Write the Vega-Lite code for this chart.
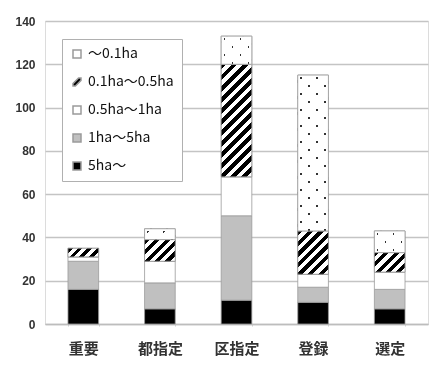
{
  "$schema": "https://vega.github.io/schema/vega-lite/v6.json",
  "autosize": "none",
  "width": 383,
  "height": 303,
  "padding": {"left": 45, "top": 21, "right": 5, "bottom": 47},
  "background": "white",
  "config": {
    "view": {"stroke": "#dcdcdc", "strokeWidth": 1},
    "font": "Noto Sans CJK JP"
  },
  "data": {
    "values": [
      {"cat": "重要", "cls": "5ha～", "min_ha": 5, "n": 16},
      {"cat": "重要", "cls": "1ha～5ha", "min_ha": 1, "n": 13},
      {"cat": "重要", "cls": "0.5ha～1ha", "min_ha": 0.5, "n": 2},
      {"cat": "重要", "cls": "0.1ha～0.5ha", "min_ha": 0.1, "n": 4},
      {"cat": "都指定", "cls": "5ha～", "min_ha": 5, "n": 7},
      {"cat": "都指定", "cls": "1ha～5ha", "min_ha": 1, "n": 12},
      {"cat": "都指定", "cls": "0.5ha～1ha", "min_ha": 0.5, "n": 10},
      {"cat": "都指定", "cls": "0.1ha～0.5ha", "min_ha": 0.1, "n": 10},
      {"cat": "都指定", "cls": "～0.1ha", "min_ha": 0, "n": 5},
      {"cat": "区指定", "cls": "5ha～", "min_ha": 5, "n": 11},
      {"cat": "区指定", "cls": "1ha～5ha", "min_ha": 1, "n": 39},
      {"cat": "区指定", "cls": "0.5ha～1ha", "min_ha": 0.5, "n": 18},
      {"cat": "区指定", "cls": "0.1ha～0.5ha", "min_ha": 0.1, "n": 52},
      {"cat": "区指定", "cls": "～0.1ha", "min_ha": 0, "n": 13},
      {"cat": "登録", "cls": "5ha～", "min_ha": 5, "n": 10},
      {"cat": "登録", "cls": "1ha～5ha", "min_ha": 1, "n": 7},
      {"cat": "登録", "cls": "0.5ha～1ha", "min_ha": 0.5, "n": 6},
      {"cat": "登録", "cls": "0.1ha～0.5ha", "min_ha": 0.1, "n": 20},
      {"cat": "登録", "cls": "～0.1ha", "min_ha": 0, "n": 72},
      {"cat": "選定", "cls": "5ha～", "min_ha": 5, "n": 7},
      {"cat": "選定", "cls": "1ha～5ha", "min_ha": 1, "n": 9},
      {"cat": "選定", "cls": "0.5ha～1ha", "min_ha": 0.5, "n": 8},
      {"cat": "選定", "cls": "0.1ha～0.5ha", "min_ha": 0.1, "n": 9},
      {"cat": "選定", "cls": "～0.1ha", "min_ha": 0, "n": 10}
    ]
  },
  "transform": [
    {"stack": "n", "groupby": ["cat"], "sort": [{"field": "min_ha", "order": "descending"}], "as": ["lo", "hi"]}
  ],
  "encoding": {
    "x": {
      "field": "cat", "type": "nominal",
      "sort": ["重要", "都指定", "区指定", "登録", "選定"],
      "scale": {"paddingInner": 0.6, "paddingOuter": 0.3},
      "axis": {
        "title": null, "labelAngle": 0, "labelFontSize": 15, "labelFontWeight": "bold",
        "labelColor": "#333", "labelFont": "Noto Sans CJK JP", "labelPadding": 15,
        "domainColor": "#bdbdbd", "domainWidth": 1.5,
        "ticks": true, "tickBand": "extent", "tickSize": 2, "tickColor": "#cfcfcf"
      }
    },
    "y": {
      "field": "lo", "type": "quantitative",
      "scale": {"domain": [0, 140]},
      "axis": {
        "title": null, "values": [0, 20, 40, 60, 80, 100, 120, 140],
        "domain": false, "ticks": false, "labelPadding": 10,
        "labelFont": "Liberation Sans", "labelFontSize": 12, "labelFontWeight": "bold", "labelColor": "#333",
        "gridColor": "#c4c4c4", "gridWidth": 1.5
      }
    },
    "y2": {"field": "hi"}
  },
  "layer": [
    {
      "mark": {"type": "bar", "stroke": "#9a9a9a", "strokeWidth": 0.8},
      "encoding": {
        "fill": {
          "field": "cls", "type": "nominal",
          "scale": {
            "domain": ["～0.1ha", "0.1ha～0.5ha", "0.5ha～1ha", "1ha～5ha", "5ha～"],
            "range": ["#ffffff", "#000000", "#ffffff", "#c0c0c0", "#000000"]
          },
          "legend": {
            "title": null, "orient": "none", "legendX": 17, "legendY": 18,
            "padding": 8, "rowPadding": 14, "labelFontSize": 14, "labelOffset": 4,
            "labelColor": "#111", "labelFont": "Noto Sans CJK JP",
            "symbolSize": 64,
            "strokeColor": "#b0b0b0", "fillColor": "#ffffff",
            "encode": {
              "symbols": {
                "update": {
                  "stroke": {"signal": "datum.value === '1ha～5ha' || datum.value === '5ha～' || datum.value === '0.1ha～0.5ha' ? 'transparent' : '#a8a8a8'"},
                  "strokeWidth": {"value": 0.7},
                  "opacity": {"value": 1}
                }
              }
            }
          }
        }
      }
    },
    {
      "transform": [{"filter": "false"}],
      "mark": {"type": "point", "filled": true},
      "encoding": {
        "y2": null,
        "shape": {
          "field": "cls", "type": "nominal",
          "scale": {
            "domain": ["～0.1ha", "0.1ha～0.5ha", "0.5ha～1ha", "1ha～5ha", "5ha～"],
            "range": ["square", "M -1 0.4 L 0.4 -1 L 1 -1 L 1 -0.4 L -0.4 1 L -1 1 Z", "square", "square", "square"]
          },
          "legend": {"title": null}
        }
      }
    },
    {
      "transform": [{"filter": "datum.cls === '0.1ha～0.5ha'"}],
      "mark": {"type": "bar", "stroke": "#9a9a9a", "strokeWidth": 0.8},
      "encoding": {
        "fill": {
          "condition": [
            {
              "test": "datum.cat === '重要'",
              "value": {
                "gradient": "linear", "x1": 0, "y1": 0, "x2": 1.1879, "y2": 0.3357,
                "stops": [
                  {"offset": 0, "color": "#000"}, {"offset": 0.125, "color": "#000"}, {"offset": 0.125, "color": "#fff"}, {"offset": 0.25, "color": "#fff"},
                  {"offset": 0.25, "color": "#000"}, {"offset": 0.375, "color": "#000"}, {"offset": 0.375, "color": "#fff"}, {"offset": 0.5, "color": "#fff"},
                  {"offset": 0.5, "color": "#000"}, {"offset": 0.625, "color": "#000"}, {"offset": 0.625, "color": "#fff"}, {"offset": 0.75, "color": "#fff"},
                  {"offset": 0.75, "color": "#000"}, {"offset": 0.875, "color": "#000"}, {"offset": 0.875, "color": "#fff"}, {"offset": 1, "color": "#fff"}
                ]
              }
            },
            {
              "test": "datum.cat === '都指定'",
              "value": {
                "gradient": "linear", "x1": 0, "y1": 0, "x2": 1.1384, "y2": 0.804,
                "stops": [
                  {"offset": 0, "color": "#000"}, {"offset": 0.1, "color": "#000"}, {"offset": 0.1, "color": "#fff"}, {"offset": 0.2, "color": "#fff"},
                  {"offset": 0.2, "color": "#000"}, {"offset": 0.3, "color": "#000"}, {"offset": 0.3, "color": "#fff"}, {"offset": 0.4, "color": "#fff"},
                  {"offset": 0.4, "color": "#000"}, {"offset": 0.5, "color": "#000"}, {"offset": 0.5, "color": "#fff"}, {"offset": 0.6, "color": "#fff"},
                  {"offset": 0.6, "color": "#000"}, {"offset": 0.7, "color": "#000"}, {"offset": 0.7, "color": "#fff"}, {"offset": 0.8, "color": "#fff"},
                  {"offset": 0.8, "color": "#000"}, {"offset": 0.9, "color": "#000"}, {"offset": 0.9, "color": "#fff"}, {"offset": 1, "color": "#fff"}
                ]
              }
            },
            {
              "test": "datum.cat === '区指定'",
              "value": {
                "gradient": "linear", "x1": 0, "y1": 0, "x2": 0.3225, "y2": 1.1845,
                "stops": [
                  {"offset": 0, "color": "#000"}, {"offset": 0.03846, "color": "#000"}, {"offset": 0.03846, "color": "#fff"}, {"offset": 0.07692, "color": "#fff"},
                  {"offset": 0.07692, "color": "#000"}, {"offset": 0.11538, "color": "#000"}, {"offset": 0.11538, "color": "#fff"}, {"offset": 0.15385, "color": "#fff"},
                  {"offset": 0.15385, "color": "#000"}, {"offset": 0.19231, "color": "#000"}, {"offset": 0.19231, "color": "#fff"}, {"offset": 0.23077, "color": "#fff"},
                  {"offset": 0.23077, "color": "#000"}, {"offset": 0.26923, "color": "#000"}, {"offset": 0.26923, "color": "#fff"}, {"offset": 0.30769, "color": "#fff"},
                  {"offset": 0.30769, "color": "#000"}, {"offset": 0.34615, "color": "#000"}, {"offset": 0.34615, "color": "#fff"}, {"offset": 0.38462, "color": "#fff"},
                  {"offset": 0.38462, "color": "#000"}, {"offset": 0.42308, "color": "#000"}, {"offset": 0.42308, "color": "#fff"}, {"offset": 0.46154, "color": "#fff"},
                  {"offset": 0.46154, "color": "#000"}, {"offset": 0.5, "color": "#000"}, {"offset": 0.5, "color": "#fff"}, {"offset": 0.53846, "color": "#fff"},
                  {"offset": 0.53846, "color": "#000"}, {"offset": 0.57692, "color": "#000"}, {"offset": 0.57692, "color": "#fff"}, {"offset": 0.61538, "color": "#fff"},
                  {"offset": 0.61538, "color": "#000"}, {"offset": 0.65385, "color": "#000"}, {"offset": 0.65385, "color": "#fff"}, {"offset": 0.69231, "color": "#fff"},
                  {"offset": 0.69231, "color": "#000"}, {"offset": 0.73077, "color": "#000"}, {"offset": 0.73077, "color": "#fff"}, {"offset": 0.76923, "color": "#fff"},
                  {"offset": 0.76923, "color": "#000"}, {"offset": 0.80769, "color": "#000"}, {"offset": 0.80769, "color": "#fff"}, {"offset": 0.84615, "color": "#fff"},
                  {"offset": 0.84615, "color": "#000"}, {"offset": 0.88462, "color": "#000"}, {"offset": 0.88462, "color": "#fff"}, {"offset": 0.92308, "color": "#fff"},
                  {"offset": 0.92308, "color": "#000"}, {"offset": 0.96154, "color": "#000"}, {"offset": 0.96154, "color": "#fff"}, {"offset": 1, "color": "#fff"}
                ]
              }
            },
            {
              "test": "datum.cat === '登録'",
              "value": {
                "gradient": "linear", "x1": 0, "y1": 0, "x2": 0.8053, "y2": 1.1378,
                "stops": [
                  {"offset": 0, "color": "#000"}, {"offset": 0.07143, "color": "#000"}, {"offset": 0.07143, "color": "#fff"}, {"offset": 0.14286, "color": "#fff"},
                  {"offset": 0.14286, "color": "#000"}, {"offset": 0.21429, "color": "#000"}, {"offset": 0.21429, "color": "#fff"}, {"offset": 0.28571, "color": "#fff"},
                  {"offset": 0.28571, "color": "#000"}, {"offset": 0.35714, "color": "#000"}, {"offset": 0.35714, "color": "#fff"}, {"offset": 0.42857, "color": "#fff"},
                  {"offset": 0.42857, "color": "#000"}, {"offset": 0.5, "color": "#000"}, {"offset": 0.5, "color": "#fff"}, {"offset": 0.57143, "color": "#fff"},
                  {"offset": 0.57143, "color": "#000"}, {"offset": 0.64286, "color": "#000"}, {"offset": 0.64286, "color": "#fff"}, {"offset": 0.71429, "color": "#fff"},
                  {"offset": 0.71429, "color": "#000"}, {"offset": 0.78571, "color": "#000"}, {"offset": 0.78571, "color": "#fff"}, {"offset": 0.85714, "color": "#fff"},
                  {"offset": 0.85714, "color": "#000"}, {"offset": 0.92857, "color": "#000"}, {"offset": 0.92857, "color": "#fff"}, {"offset": 1, "color": "#fff"}
                ]
              }
            },
            {
              "test": "datum.cat === '選定'",
              "value": {
                "gradient": "linear", "x1": 0, "y1": 0, "x2": 1.1649, "y2": 0.7406,
                "stops": [
                  {"offset": 0, "color": "#000"}, {"offset": 0.1, "color": "#000"}, {"offset": 0.1, "color": "#fff"}, {"offset": 0.2, "color": "#fff"},
                  {"offset": 0.2, "color": "#000"}, {"offset": 0.3, "color": "#000"}, {"offset": 0.3, "color": "#fff"}, {"offset": 0.4, "color": "#fff"},
                  {"offset": 0.4, "color": "#000"}, {"offset": 0.5, "color": "#000"}, {"offset": 0.5, "color": "#fff"}, {"offset": 0.6, "color": "#fff"},
                  {"offset": 0.6, "color": "#000"}, {"offset": 0.7, "color": "#000"}, {"offset": 0.7, "color": "#fff"}, {"offset": 0.8, "color": "#fff"},
                  {"offset": 0.8, "color": "#000"}, {"offset": 0.9, "color": "#000"}, {"offset": 0.9, "color": "#fff"}, {"offset": 1, "color": "#fff"}
                ]
              }
            }
          ],
          "value": "#fff"
        }
      }
    },
    {
      "transform": [{"filter": "datum.cls === '～0.1ha'"}],
      "mark": {"type": "bar", "stroke": "#9a9a9a", "strokeWidth": 0.8},
      "encoding": {
        "fill": {
          "condition": [
            {
              "test": "datum.cat === '都指定'",
              "value": {
                "gradient": "linear", "x1": 0, "y1": 0, "x2": 1.2031, "y2": 0.4249,
                "stops": [
                  {"offset": 0, "color": "#fff"},
                  {"offset": 0.1231, "color": "#fff"}, {"offset": 0.1231, "color": "#333"}, {"offset": 0.1809, "color": "#333"}, {"offset": 0.1809, "color": "#fff"},
                  {"offset": 0.509, "color": "#fff"}, {"offset": 0.509, "color": "#333"}, {"offset": 0.5668, "color": "#333"}, {"offset": 0.5668, "color": "#fff"},
                  {"offset": 0.8949, "color": "#fff"}, {"offset": 0.8949, "color": "#333"}, {"offset": 0.9527, "color": "#333"}, {"offset": 0.9527, "color": "#fff"},
                  {"offset": 1, "color": "#fff"}
                ]
              }
            },
            {
              "test": "datum.cat === '区指定'",
              "value": {
                "gradient": "linear", "x1": 0, "y1": 0, "x2": 1.0406, "y2": 0.9557,
                "stops": [
                  {"offset": 0, "color": "#fff"},
                  {"offset": 0.0868, "color": "#fff"}, {"offset": 0.0868, "color": "#333"}, {"offset": 0.1276, "color": "#333"}, {"offset": 0.1276, "color": "#fff"},
                  {"offset": 0.359, "color": "#fff"}, {"offset": 0.359, "color": "#333"}, {"offset": 0.3998, "color": "#333"}, {"offset": 0.3998, "color": "#fff"},
                  {"offset": 0.6312, "color": "#fff"}, {"offset": 0.6312, "color": "#333"}, {"offset": 0.672, "color": "#333"}, {"offset": 0.672, "color": "#fff"},
                  {"offset": 0.9034, "color": "#fff"}, {"offset": 0.9034, "color": "#333"}, {"offset": 0.9442, "color": "#333"}, {"offset": 0.9442, "color": "#fff"},
                  {"offset": 1, "color": "#fff"}
                ]
              }
            },
            {
              "test": "datum.cat === '登録'",
              "value": {
                "gradient": "linear", "x1": 0, "y1": 0, "x2": 0.22653, "y2": 1.15208,
                "stops": [
                  {"offset": 0, "color": "#fff"},
                  {"offset": 0.0274, "color": "#fff"}, {"offset": 0.0274, "color": "#333"}, {"offset": 0.0402, "color": "#333"}, {"offset": 0.0402, "color": "#fff"},
                  {"offset": 0.1132, "color": "#fff"}, {"offset": 0.1132, "color": "#333"}, {"offset": 0.126, "color": "#333"}, {"offset": 0.126, "color": "#fff"},
                  {"offset": 0.199, "color": "#fff"}, {"offset": 0.199, "color": "#333"}, {"offset": 0.2118, "color": "#333"}, {"offset": 0.2118, "color": "#fff"},
                  {"offset": 0.2848, "color": "#fff"}, {"offset": 0.2848, "color": "#333"}, {"offset": 0.2976, "color": "#333"}, {"offset": 0.2976, "color": "#fff"},
                  {"offset": 0.3706, "color": "#fff"}, {"offset": 0.3706, "color": "#333"}, {"offset": 0.3834, "color": "#333"}, {"offset": 0.3834, "color": "#fff"},
                  {"offset": 0.4564, "color": "#fff"}, {"offset": 0.4564, "color": "#333"}, {"offset": 0.4692, "color": "#333"}, {"offset": 0.4692, "color": "#fff"},
                  {"offset": 0.5422, "color": "#fff"}, {"offset": 0.5422, "color": "#333"}, {"offset": 0.555, "color": "#333"}, {"offset": 0.555, "color": "#fff"},
                  {"offset": 0.628, "color": "#fff"}, {"offset": 0.628, "color": "#333"}, {"offset": 0.6408, "color": "#333"}, {"offset": 0.6408, "color": "#fff"},
                  {"offset": 0.7138, "color": "#fff"}, {"offset": 0.7138, "color": "#333"}, {"offset": 0.7266, "color": "#333"}, {"offset": 0.7266, "color": "#fff"},
                  {"offset": 0.7996, "color": "#fff"}, {"offset": 0.7996, "color": "#333"}, {"offset": 0.8124, "color": "#333"}, {"offset": 0.8124, "color": "#fff"},
                  {"offset": 0.8854, "color": "#fff"}, {"offset": 0.8854, "color": "#333"}, {"offset": 0.8982, "color": "#333"}, {"offset": 0.8982, "color": "#fff"},
                  {"offset": 0.9712, "color": "#fff"}, {"offset": 0.9712, "color": "#333"}, {"offset": 0.984, "color": "#333"}, {"offset": 0.984, "color": "#fff"},
                  {"offset": 1, "color": "#fff"}
                ]
              }
            },
            {
              "test": "datum.cat === '選定'",
              "value": {
                "gradient": "linear", "x1": 0, "y1": 0, "x2": 1.1384, "y2": 0.804,
                "stops": [
                  {"offset": 0, "color": "#fff"},
                  {"offset": 0.0976, "color": "#fff"}, {"offset": 0.0976, "color": "#333"}, {"offset": 0.1435, "color": "#333"}, {"offset": 0.1435, "color": "#fff"},
                  {"offset": 0.4036, "color": "#fff"}, {"offset": 0.4036, "color": "#333"}, {"offset": 0.4495, "color": "#333"}, {"offset": 0.4495, "color": "#fff"},
                  {"offset": 0.7097, "color": "#fff"}, {"offset": 0.7097, "color": "#333"}, {"offset": 0.7556, "color": "#333"}, {"offset": 0.7556, "color": "#fff"},
                  {"offset": 1, "color": "#fff"}
                ]
              }
            }
          ],
          "value": "#fff"
        }
      }
    },
    {
      "transform": [{"filter": "datum.cls === '～0.1ha'"}],
      "mark": {"type": "bar", "stroke": "#9a9a9a", "strokeWidth": 0.8, "blend": "lighten"},
      "encoding": {
        "fill": {
          "condition": [
            {
              "test": "datum.cat === '都指定'",
              "value": {
                "gradient": "linear", "x1": 0, "y1": 1, "x2": 1.2031, "y2": 0.5751,
                "stops": [
                  {"offset": 0, "color": "#fff"},
                  {"offset": 0.2393, "color": "#fff"}, {"offset": 0.2393, "color": "#333"}, {"offset": 0.2971, "color": "#333"}, {"offset": 0.2971, "color": "#fff"},
                  {"offset": 0.6252, "color": "#fff"}, {"offset": 0.6252, "color": "#333"}, {"offset": 0.683, "color": "#333"}, {"offset": 0.683, "color": "#fff"},
                  {"offset": 1, "color": "#fff"}
                ]
              }
            },
            {
              "test": "datum.cat === '区指定'",
              "value": {
                "gradient": "linear", "x1": 0, "y1": 1, "x2": 1.0406, "y2": 0.0443,
                "stops": [
                  {"offset": 0, "color": "#fff"},
                  {"offset": 0.1912, "color": "#fff"}, {"offset": 0.1912, "color": "#333"}, {"offset": 0.232, "color": "#333"}, {"offset": 0.232, "color": "#fff"},
                  {"offset": 0.4634, "color": "#fff"}, {"offset": 0.4634, "color": "#333"}, {"offset": 0.5042, "color": "#333"}, {"offset": 0.5042, "color": "#fff"},
                  {"offset": 0.7356, "color": "#fff"}, {"offset": 0.7356, "color": "#333"}, {"offset": 0.7764, "color": "#333"}, {"offset": 0.7764, "color": "#fff"},
                  {"offset": 1, "color": "#fff"}
                ]
              }
            },
            {
              "test": "datum.cat === '登録'",
              "value": {
                "gradient": "linear", "x1": 0, "y1": 1, "x2": 0.22653, "y2": -0.15208,
                "stops": [
                  {"offset": 0, "color": "#fff"},
                  {"offset": 0.0586, "color": "#fff"}, {"offset": 0.0586, "color": "#333"}, {"offset": 0.0715, "color": "#333"}, {"offset": 0.0715, "color": "#fff"},
                  {"offset": 0.1444, "color": "#fff"}, {"offset": 0.1444, "color": "#333"}, {"offset": 0.1573, "color": "#333"}, {"offset": 0.1573, "color": "#fff"},
                  {"offset": 0.2302, "color": "#fff"}, {"offset": 0.2302, "color": "#333"}, {"offset": 0.2431, "color": "#333"}, {"offset": 0.2431, "color": "#fff"},
                  {"offset": 0.316, "color": "#fff"}, {"offset": 0.316, "color": "#333"}, {"offset": 0.3289, "color": "#333"}, {"offset": 0.3289, "color": "#fff"},
                  {"offset": 0.4018, "color": "#fff"}, {"offset": 0.4018, "color": "#333"}, {"offset": 0.4147, "color": "#333"}, {"offset": 0.4147, "color": "#fff"},
                  {"offset": 0.4876, "color": "#fff"}, {"offset": 0.4876, "color": "#333"}, {"offset": 0.5005, "color": "#333"}, {"offset": 0.5005, "color": "#fff"},
                  {"offset": 0.5734, "color": "#fff"}, {"offset": 0.5734, "color": "#333"}, {"offset": 0.5863, "color": "#333"}, {"offset": 0.5863, "color": "#fff"},
                  {"offset": 0.6592, "color": "#fff"}, {"offset": 0.6592, "color": "#333"}, {"offset": 0.6721, "color": "#333"}, {"offset": 0.6721, "color": "#fff"},
                  {"offset": 0.745, "color": "#fff"}, {"offset": 0.745, "color": "#333"}, {"offset": 0.7579, "color": "#333"}, {"offset": 0.7579, "color": "#fff"},
                  {"offset": 0.8308, "color": "#fff"}, {"offset": 0.8308, "color": "#333"}, {"offset": 0.8437, "color": "#333"}, {"offset": 0.8437, "color": "#fff"},
                  {"offset": 0.9166, "color": "#fff"}, {"offset": 0.9166, "color": "#333"}, {"offset": 0.9295, "color": "#333"}, {"offset": 0.9295, "color": "#fff"},
                  {"offset": 1, "color": "#fff"}
                ]
              }
            },
            {
              "test": "datum.cat === '選定'",
              "value": {
                "gradient": "linear", "x1": 0, "y1": 1, "x2": 1.1384, "y2": 0.196,
                "stops": [
                  {"offset": 0, "color": "#fff"},
                  {"offset": 0.0907, "color": "#fff"}, {"offset": 0.0907, "color": "#333"}, {"offset": 0.1366, "color": "#333"}, {"offset": 0.1366, "color": "#fff"},
                  {"offset": 0.3967, "color": "#fff"}, {"offset": 0.3967, "color": "#333"}, {"offset": 0.4426, "color": "#333"}, {"offset": 0.4426, "color": "#fff"},
                  {"offset": 0.7028, "color": "#fff"}, {"offset": 0.7028, "color": "#333"}, {"offset": 0.7487, "color": "#333"}, {"offset": 0.7487, "color": "#fff"},
                  {"offset": 1, "color": "#fff"}
                ]
              }
            }
          ],
          "value": "#fff"
        }
      }
    }
  ]
}
